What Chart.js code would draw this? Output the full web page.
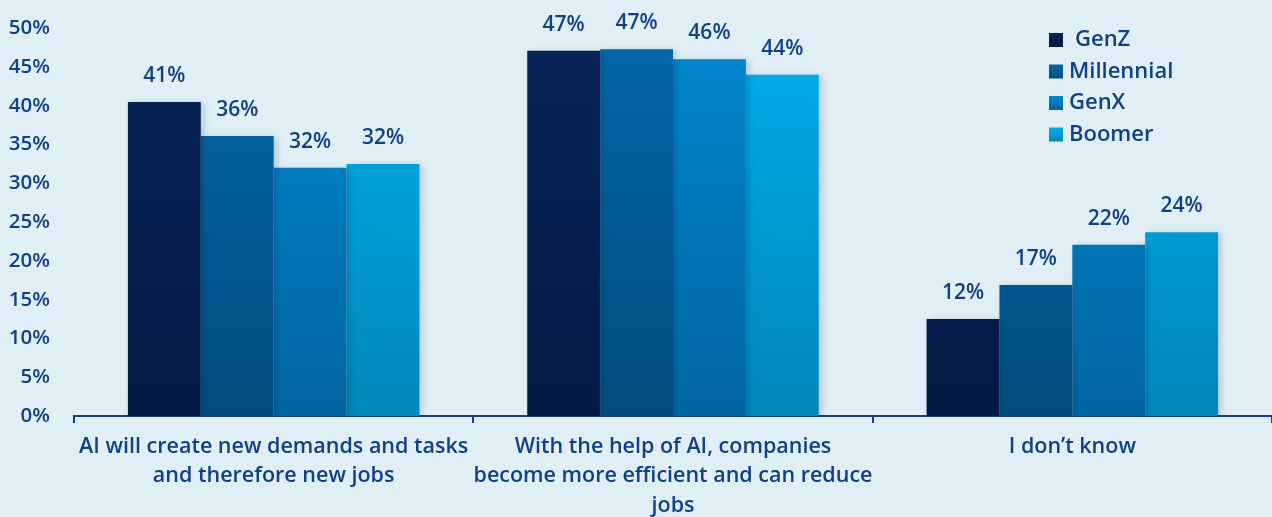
<!DOCTYPE html>
<html>
<head>
<meta charset="utf-8">
<script src="https://cdn.jsdelivr.net/npm/chart.js@4/dist/chart.umd.min.js"></script>
<style>
  html, body { margin: 0; padding: 0; background: #dfeff5; }
  #wrap { width: 1272px; height: 517px; }
</style>
</head>
<body>
<div id="wrap"><canvas id="aiChart"></canvas></div>
<script>
// survey answers by generation (share of respondents, %)
const categories = [
  ["AI will create new demands and tasks", "and therefore new jobs"],
  ["With the help of AI, companies", "become more efficient and can reduce", "jobs"],
  "I don\u2019t know"
];
const genZ = [40.5, 47.1, 12.5];
const millennial = [36.1, 47.3, 16.9];
const genX = [32.0, 46.0, 22.1];
const boomer = [32.5, 44.0, 23.7];
const shownLabels = [
  ["41%", "47%", "12%"],
  ["36%", "47%", "17%"],
  ["32%", "46%", "22%"],
  ["32%", "44%", "24%"]
];
const seriesNames = ["GenZ", "Millennial", "GenX", "Boomer"];
const yTicks = [0, 5, 10, 15, 20, 25, 30, 35, 40, 45, 50];

const textColor = '#123f88';
const FONT = '"Open Sans", sans-serif';
// top / bottom colour of each bar gradient
const shades = [
  ['#08245a', '#031a44'],
  ['#0468aa', '#014d7f'],
  ['#0287d2', '#0166a1'],
  ['#00aeef', '#0088b9']
];

function grad(i) {
  return function(c) {
    const area = c.chart.chartArea;
    if (!area) return shades[i][0];
    const g = c.chart.ctx.createLinearGradient(0, area.top, 0, area.bottom);
    g.addColorStop(0, shades[i][0]);
    g.addColorStop(1, shades[i][1]);
    return g;
  };
}

// faint shadow to the right of the bars
const barShadow = {
  id: 'barShadow',
  beforeDatasetsDraw(chart) {
    const ctx = chart.ctx;
    ctx.save();
    ctx.shadowColor = 'rgba(0, 20, 60, 0.18)';
    ctx.shadowBlur = 6;
    ctx.shadowOffsetX = 3;
    ctx.shadowOffsetY = 1;
  },
  afterDatasetsDraw(chart) {
    chart.ctx.restore();
  }
};

// value labels above bars
const valueLabels = {
  id: 'valueLabels',
  afterDatasetsDraw(chart) {
    const ctx = chart.ctx;
    ctx.save();
    ctx.font = '600 21px ' + FONT;
    ctx.fillStyle = textColor;
    ctx.textAlign = 'center';
    ctx.textBaseline = 'middle';
    chart.data.datasets.forEach((ds, i) => {
      chart.getDatasetMeta(i).data.forEach((bar, j) => {
        ctx.fillText(shownLabels[i][j], bar.x, bar.y - 26);
      });
    });
    ctx.restore();
  }
};

// legend in the top right corner
const cornerLegend = {
  id: 'cornerLegend',
  afterDraw(chart) {
    const ctx = chart.ctx;
    ctx.save();
    ctx.font = '600 22px ' + FONT;
    ctx.textBaseline = 'middle';
    seriesNames.forEach((name, i) => {
      const y = 40 + i * 31.5;
      const g = ctx.createLinearGradient(0, y - 7, 0, y + 7);
      g.addColorStop(0, shades[i][0]);
      g.addColorStop(1, shades[i][1]);
      ctx.fillStyle = g;
      ctx.fillRect(1049, y - 7, 14, 14);
      ctx.fillStyle = textColor;
      ctx.fillText(name, i === 0 ? 1075 : 1069, y);
    });
    ctx.restore();
  }
};

new Chart(document.getElementById('aiChart'), {
  type: 'bar',
  data: {
    labels: categories,
    datasets: [
      { label: seriesNames[0], data: genZ, backgroundColor: grad(0) },
      { label: seriesNames[1], data: millennial, backgroundColor: grad(1) },
      { label: seriesNames[2], data: genX, backgroundColor: grad(2) },
      { label: seriesNames[3], data: boomer, backgroundColor: grad(3) }
    ]
  },
  options: {
    responsive: true,
    maintainAspectRatio: false,
    animation: false,
    layout: { padding: { top: -2, right: 0, left: 0, bottom: 0 } },
    datasets: { bar: { barPercentage: 1, categoryPercentage: 0.73 } },
    plugins: { legend: { display: false }, tooltip: { enabled: false } },
    scales: {
      x: {
        afterFit(axis) { axis.height = 101; },
        grid: { display: true, drawOnChartArea: false, color: '#1b3d85', lineWidth: 2, tickLength: 7, offset: true },
        border: { display: true, color: '#1b3d85', width: 2 },
        ticks: { color: textColor, font: { family: FONT, size: 21.5, weight: '600', lineHeight: 1.37 }, padding: 9, maxRotation: 0, autoSkip: false }
      },
      y: {
        min: 0,
        max: 50,
        afterFit(axis) { axis.width = 74; },
        afterBuildTicks(axis) { axis.ticks = yTicks.map(v => ({ value: v })); },
        grid: { display: false },
        border: { display: false },
        ticks: { color: textColor, font: { family: FONT, size: 20.5, weight: '600' }, padding: 16, callback: v => v + '%' }
      }
    }
  },
  plugins: [barShadow, valueLabels, cornerLegend]
});
</script>
</body>
</html>
